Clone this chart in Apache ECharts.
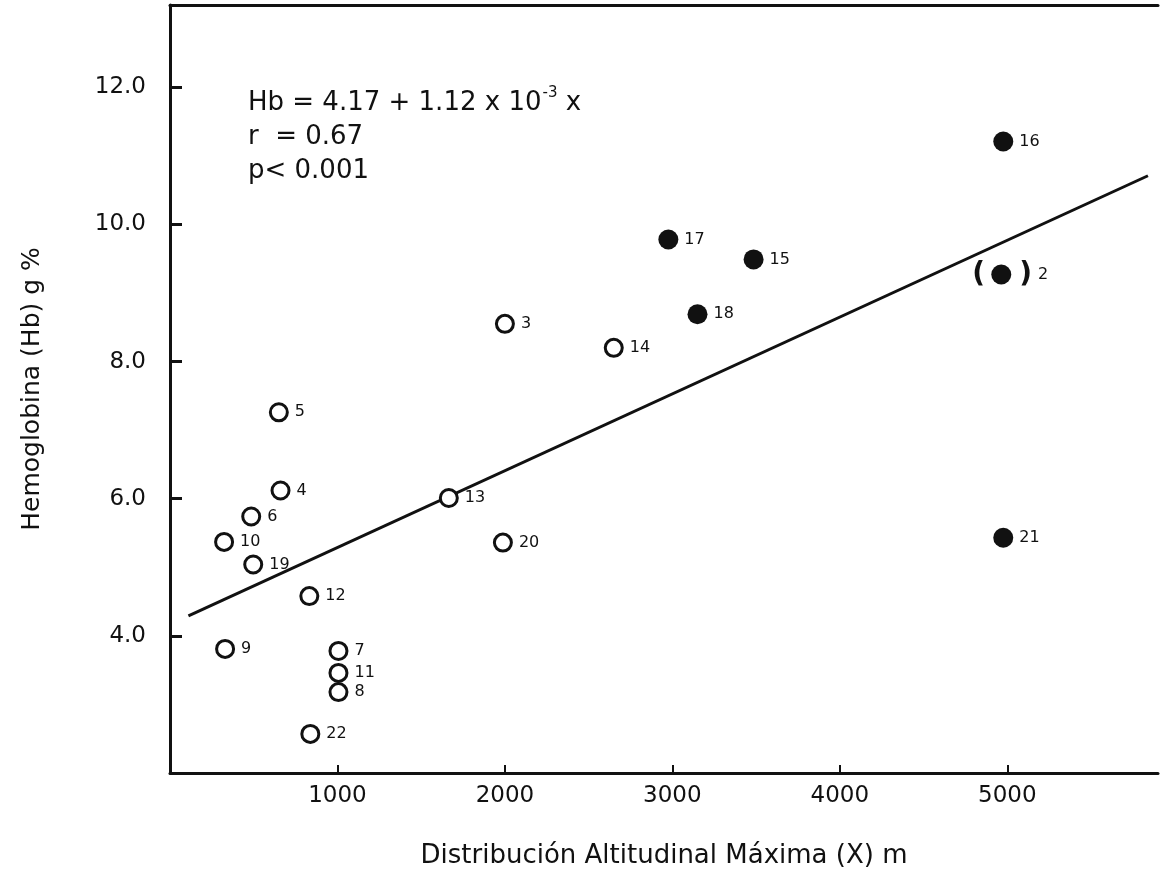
<!DOCTYPE html>
<html>
<head>
<meta charset="utf-8">
<script src="https://cdn.jsdelivr.net/npm/echarts@6/dist/echarts.min.js"></script>
<style>
    html, body { margin: 0; padding: 0; background: #fff; }
    #main { width: 1162px; height: 893px; }
</style>
</head>
<body>
<div id="main"></div>
<script>
var element = document.querySelector('#main')
var myChart = echarts.init(element)

const FONT = 'DejaVu Sans'
const INK = '#111'

// open circles: [altitud, Hb, especie]
const openPoints = [
    [2000, 8.55, '3'],
    [2650, 8.20, '14'],
    [650, 7.26, '5'],
    [660, 6.12, '4'],
    [485, 5.74, '6'],
    [323, 5.37, '10'],
    [497, 5.04, '19'],
    [832, 4.58, '12'],
    [1665, 6.01, '13'],
    [1988, 5.36, '20'],
    [329, 3.81, '9'],
    [1006, 3.78, '7'],
    [1006, 3.46, '11'],
    [1006, 3.18, '8'],
    [838, 2.57, '22'],
]

// filled circles
const filledPoints = [
    [4976, 11.21, '16'],
    [2976, 9.78, '17'],
    [3485, 9.49, '15'],
    [3150, 8.69, '18'],
    [4976, 5.43, '21'],
]

// point shown in brackets
const bracketPoint = [[4964, 9.27, '2']]

// regression line endpoints, as drawn
const fitLine = [[110, 4.29], [5840, 10.71]]

const yTicks = [4, 6, 8, 10, 12]
const xTicks = [1000, 2000, 3000, 4000, 5000]

const pointLabel = {
    show: true,
    position: 'right',
    distance: 6,
    formatter: (p) => p.data[2],
    color: INK,
    fontFamily: FONT,
    fontSize: 16,
}

let option = {
    backgroundColor: '#fff',
    animation: false,
    grid: {
        left: 170,
        right: 4,
        top: 5,
        bottom: 120,
    },
    xAxis: [
        {
            type: 'value',
            min: 0,
            max: 5900,
            interval: 1000,
            splitLine: { show: false },
            axisLine: { lineStyle: { color: INK, width: 3 } },
            axisTick: {
                inside: true,
                length: 8,
                customValues: xTicks,
                lineStyle: { color: INK, width: 2 },
            },
            axisLabel: {
                margin: 12,
                color: INK,
                fontFamily: FONT,
                fontSize: 23,
                customValues: xTicks,
                formatter: (v) => String(v),
            },
            name: 'Distribución Altitudinal Máxima (X) m',
            nameLocation: 'middle',
            nameGap: 70,
            nameTextStyle: { color: INK, fontFamily: FONT, fontSize: 26 },
        },
        {
            type: 'value',
            position: 'top',
            min: 0,
            max: 5900,
            splitLine: { show: false },
            axisLine: { show: true, lineStyle: { color: INK, width: 3 } },
            axisTick: { show: false },
            axisLabel: { show: false },
        },
    ],
    yAxis: {
        type: 'value',
        min: 2,
        max: 13.2,
        interval: 2,
        splitLine: { show: false },
        axisLine: { lineStyle: { color: INK, width: 3 } },
        axisTick: {
            inside: true,
            length: 12,
            customValues: yTicks,
            lineStyle: { color: INK, width: 3 },
        },
        axisLabel: {
            margin: 24,
            color: INK,
            fontFamily: FONT,
            fontSize: 23,
            customValues: yTicks,
            formatter: (v) => v.toFixed(1),
        },
        name: 'Hemoglobina (Hb) g %',
        nameLocation: 'middle',
        nameRotate: 90,
        nameGap: 125,
        nameTextStyle: { color: INK, fontFamily: FONT, fontSize: 25 },
    },
    graphic: [
        {
            type: 'text',
            left: 248,
            top: 86,
            style: {
                text: '{t|Hb = 4.17 + 1.12 x 10}{s|-3}{t| x}\n{t|r  = 0.67}\n{t|p< 0.001}',
                fill: INK,
                rich: {
                    t: { fontFamily: FONT, fontSize: 26, lineHeight: 34, fill: INK },
                    s: { fontFamily: FONT, fontSize: 15, lineHeight: 34, verticalAlign: 'top', padding: [0, 0, 14, 1], fill: INK },
                },
            },
        },
    ],
    series: [
        {
            name: 'fit',
            type: 'line',
            data: fitLine,
            symbol: 'none',
            lineStyle: { color: INK, width: 3 },
            z: 1,
        },
        {
            name: 'open',
            type: 'scatter',
            data: openPoints,
            symbol: 'circle',
            symbolSize: 17,
            itemStyle: { color: '#fff', borderColor: INK, borderWidth: 3, opacity: 1 },
            label: pointLabel,
            z: 3,
        },
        {
            name: 'filled',
            type: 'scatter',
            data: filledPoints,
            symbol: 'circle',
            symbolSize: 20,
            itemStyle: { color: INK, opacity: 1 },
            label: pointLabel,
            z: 3,
        },
        {
            name: 'bracket',
            type: 'scatter',
            data: bracketPoint,
            symbol: 'circle',
            symbolSize: 20,
            itemStyle: { color: INK, opacity: 1 },
            label: {
                show: true,
                position: 'inside',
                offset: [9, 0],
                formatter: (p) => '{b|(}{g|}{b|)}{n|' + p.data[2] + '}',
                rich: {
                    b: { fontFamily: FONT, fontSize: 28, color: INK, fontWeight: 'bold' },
                    g: { width: 34 },
                    n: { fontFamily: FONT, fontSize: 16, color: INK, padding: [0, 0, 0, 6] },
                },
            },
            z: 3,
        },
    ],
}

myChart.setOption(option)
</script>
</body>
</html>
